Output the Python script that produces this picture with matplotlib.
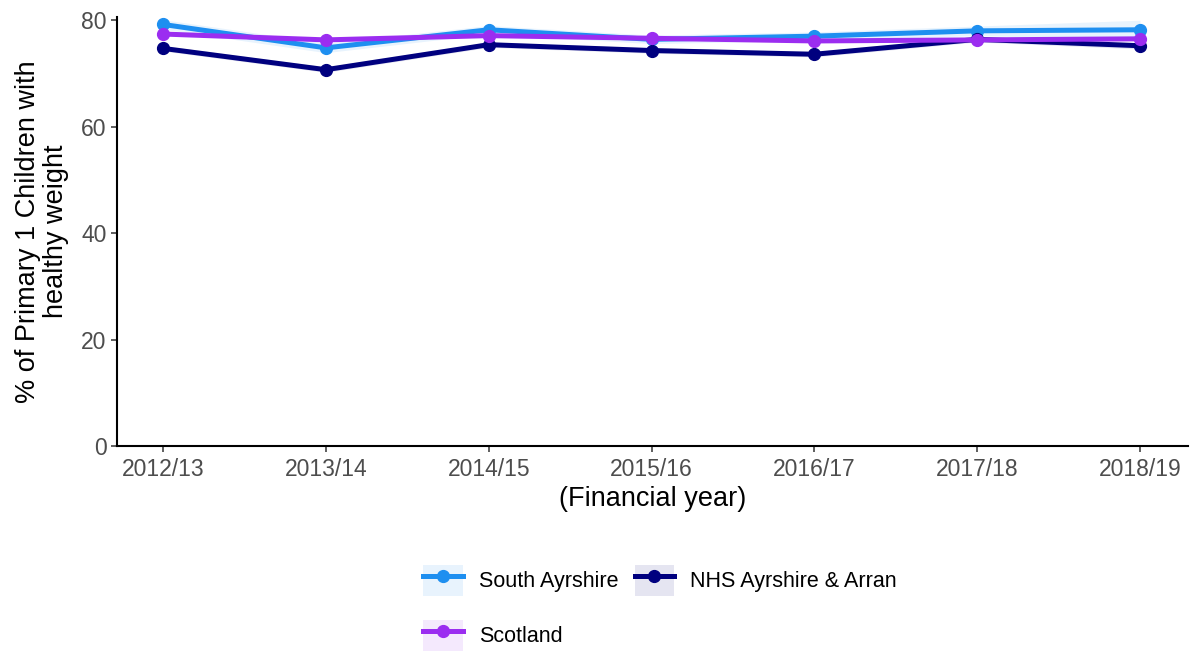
import matplotlib
matplotlib.use("Agg")
import matplotlib.pyplot as plt
from matplotlib.patches import Patch
from matplotlib.lines import Line2D
import numpy as np

plt.rcParams['font.family'] = ['Liberation Sans', 'DejaVu Sans']

years = ["2012/13", "2013/14", "2014/15", "2015/16", "2016/17", "2017/18", "2018/19"]
south_ayrshire = [79.2, 74.8, 78.2, 76.4, 77.0, 78.0, 78.2]
south_ayrshire_ci = [0.9, 0.9, 0.8, 0.8, 0.8, 0.9, 1.8]
nhs_ayrshire_arran = [74.7, 70.7, 75.4, 74.3, 73.6, 76.4, 75.2]
nhs_ayrshire_arran_ci = [0.5, 0.5, 0.5, 0.5, 0.5, 0.5, 0.6]
scotland = [77.4, 76.3, 77.1, 76.6, 76.1, 76.3, 76.5]
scotland_ci = [0.2, 0.2, 0.2, 0.2, 0.2, 0.2, 0.2]

series = [
    ("South Ayrshire", south_ayrshire, south_ayrshire_ci, "#1E8FF0"),
    ("NHS Ayrshire & Arran", nhs_ayrshire_arran, nhs_ayrshire_arran_ci, "#00007F"),
    ("Scotland", scotland, scotland_ci, "#9B2DF0"),
]

fig = plt.figure(figsize=(11.99, 6.54), dpi=100)
ax = fig.add_axes([117/1199, 1-446/654, (1188-117)/1199, (446-17)/654])

x = np.arange(len(years))
handles = {}
for name, vals, ci, col in series:
    v = np.array(vals); c = np.array(ci)
    ax.fill_between(x, v - c, v + c, color=col, alpha=0.1, linewidth=0)
    ax.plot(x, v, color=col, lw=3.6, marker="o", markersize=8.5, solid_capstyle="butt")
    handles[name] = (Patch(facecolor=col, alpha=0.1, edgecolor='none'),
                     Line2D([], [], color=col, lw=3.6, marker="o", markersize=8.5))

ax.set_xlim(-0.283, 6.295)
ax.set_ylim(0, 80.6)
ax.set_xticks(x)
ax.set_xticklabels(years)
ax.set_yticks([0, 20, 40, 60, 80])
for s in ["top", "right"]:
    ax.spines[s].set_visible(False)
for s in ["left", "bottom"]:
    ax.spines[s].set_linewidth(1.5)
    ax.spines[s].set_color("black")
ax.tick_params(axis="both", labelsize=16.5, labelcolor="#4D4D4D", color="#333333", length=4, width=1.1)
ax.tick_params(axis="x", pad=5)
ax.set_xlabel("(Financial year)", fontsize=19.5, labelpad=3)
ax.set_ylabel("% of Primary 1 Children with\nhealthy weight", fontsize=19.5, labelpad=9,
              multialignment="center", linespacing=1.1)

order = ["South Ayrshire", "Scotland", "NHS Ayrshire & Arran"]
leg = fig.legend([handles[n] for n in order], order, loc="center", bbox_to_anchor=(660/1199, 1-608/654),
                 ncol=2, frameon=False, fontsize=15.5, handlelength=1.85, handleheight=1.85,
                 handletextpad=0.75, columnspacing=0.75, labelspacing=1.1)

fig.savefig("out.png", dpi=100)
